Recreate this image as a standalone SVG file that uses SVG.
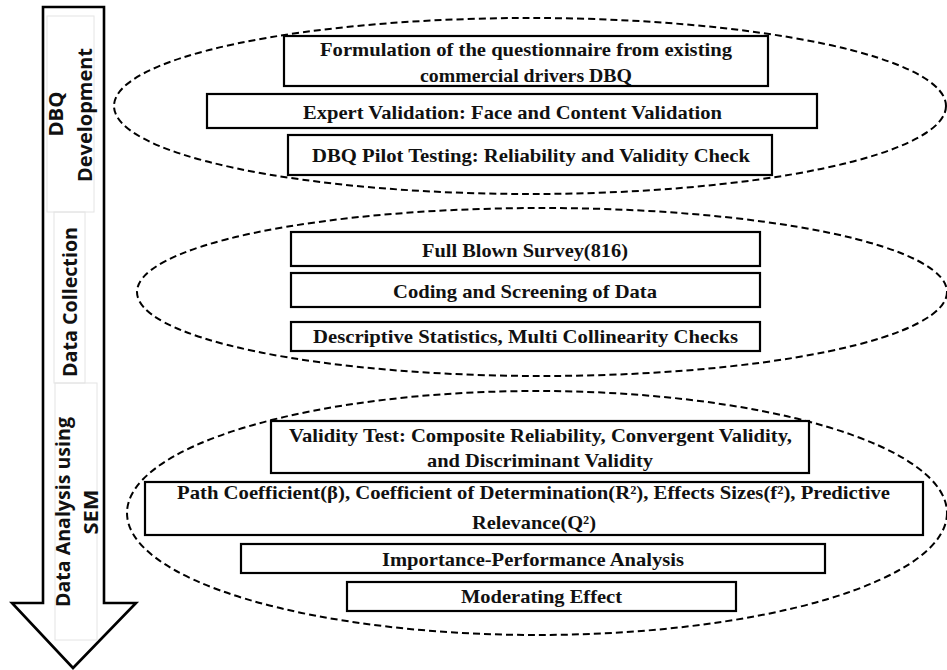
<svg xmlns="http://www.w3.org/2000/svg" width="947" height="670" viewBox="0 0 947 670">
<style>
  .bg { fill: #ffffff; }
  .box { fill: #ffffff; stroke: #000000; stroke-width: 2.2; }
  .grp { fill: none; stroke: #000000; stroke-width: 2; stroke-dasharray: 7 4; }
  .arrow { fill: #ffffff; stroke: #000000; stroke-width: 2.6; stroke-linejoin: miter; }
  .faint { fill: none; stroke: #e4e4e4; stroke-width: 1; }
  .t { font-family: "Liberation Serif", "Times New Roman", serif; font-weight: bold; font-size: 19px; fill: #111111; text-anchor: middle; }
  .v { font-family: "Open Sans", "Noto Sans", "DejaVu Sans", sans-serif; font-weight: bold; font-size: 20px; fill: #111111; text-anchor: middle; }
</style>
<rect class="bg" x="0" y="0" width="947" height="670"/>

<g id="connectors">
  <g id="flow-arrow">
    <polygon class="arrow" points="43,7 104,7 104,603 136,603 73,668 12,603 43,603"/>
    <rect class="faint" x="47" y="16" width="47" height="196"/>
    <rect class="faint" x="54" y="212" width="31" height="171"/>
    <rect class="faint" x="55" y="383" width="42" height="257"/>
    <text class="v" transform="translate(63,114) rotate(-90)" textLength="45" lengthAdjust="spacingAndGlyphs">DBQ</text>
    <text class="v" transform="translate(92,115) rotate(-90)" textLength="134" lengthAdjust="spacingAndGlyphs">Development</text>
    <text class="v" transform="translate(77,302) rotate(-90)" textLength="150" lengthAdjust="spacingAndGlyphs">Data Collection</text>
    <text class="v" transform="translate(70,512) rotate(-90)" textLength="190" lengthAdjust="spacingAndGlyphs">Data Analysis using</text>
    <text class="v" transform="translate(98,512) rotate(-90)" textLength="45" lengthAdjust="spacingAndGlyphs">SEM</text>
  </g>
</g>

<g id="phase-dbq-development">
  <ellipse class="grp" cx="530" cy="106" rx="416" ry="88"/>
</g>
<g id="phase-data-collection">
  <ellipse class="grp" cx="542" cy="292" rx="405" ry="84"/>
</g>
<g id="phase-data-analysis">
  <ellipse class="grp" cx="537" cy="513" rx="410" ry="122"/>
</g>

<g id="node-formulation">
  <rect class="box" x="284" y="36" width="484" height="50"/>
  <text class="t" x="526" y="56" textLength="412" lengthAdjust="spacingAndGlyphs">Formulation of the questionnaire from existing</text>
  <text class="t" x="526" y="82" textLength="212" lengthAdjust="spacingAndGlyphs">commercial drivers DBQ</text>
</g>
<g id="node-expert-validation">
  <rect class="box" x="207" y="94" width="610" height="34"/>
  <text class="t" x="512.5" y="119" textLength="419" lengthAdjust="spacingAndGlyphs">Expert Validation: Face and Content Validation</text>
</g>
<g id="node-pilot-testing">
  <rect class="box" x="288" y="135" width="484" height="40"/>
  <text class="t" x="531" y="162" textLength="438" lengthAdjust="spacingAndGlyphs">DBQ Pilot Testing: Reliability and Validity Check</text>
</g>

<g id="node-full-blown-survey">
  <rect class="box" x="291" y="232" width="469" height="34"/>
  <text class="t" x="525" y="257" textLength="206" lengthAdjust="spacingAndGlyphs">Full Blown Survey(816)</text>
</g>
<g id="node-coding-screening">
  <rect class="box" x="291" y="273" width="469" height="34"/>
  <text class="t" x="525" y="298" textLength="264" lengthAdjust="spacingAndGlyphs">Coding and Screening of Data</text>
</g>
<g id="node-descriptive-statistics">
  <rect class="box" x="291" y="322" width="469" height="29"/>
  <text class="t" x="525.5" y="343" textLength="425" lengthAdjust="spacingAndGlyphs">Descriptive Statistics, Multi Collinearity Checks</text>
</g>

<g id="node-validity-test">
  <rect class="box" x="271" y="421" width="538" height="52"/>
  <text class="t" x="540.5" y="442" textLength="503" lengthAdjust="spacingAndGlyphs">Validity Test: Composite Reliability, Convergent Validity,</text>
  <text class="t" x="540" y="467" textLength="226" lengthAdjust="spacingAndGlyphs">and Discriminant Validity</text>
</g>
<g id="node-path-coefficient">
  <rect class="box" x="145" y="482" width="778" height="53"/>
  <text class="t" x="533.5" y="499" textLength="713" lengthAdjust="spacingAndGlyphs">Path Coefficient(β), Coefficient of Determination(R²), Effects Sizes(f²), Predictive</text>
  <text class="t" x="534" y="529" textLength="124" lengthAdjust="spacingAndGlyphs">Relevance(Q²)</text>
</g>
<g id="node-ipma">
  <rect class="box" x="241" y="544" width="584" height="29"/>
  <text class="t" x="533" y="566" textLength="302" lengthAdjust="spacingAndGlyphs">Importance-Performance Analysis</text>
</g>
<g id="node-moderating-effect">
  <rect class="box" x="347" y="582" width="389" height="29"/>
  <text class="t" x="541.5" y="603" textLength="161" lengthAdjust="spacingAndGlyphs">Moderating Effect</text>
</g>
</svg>
